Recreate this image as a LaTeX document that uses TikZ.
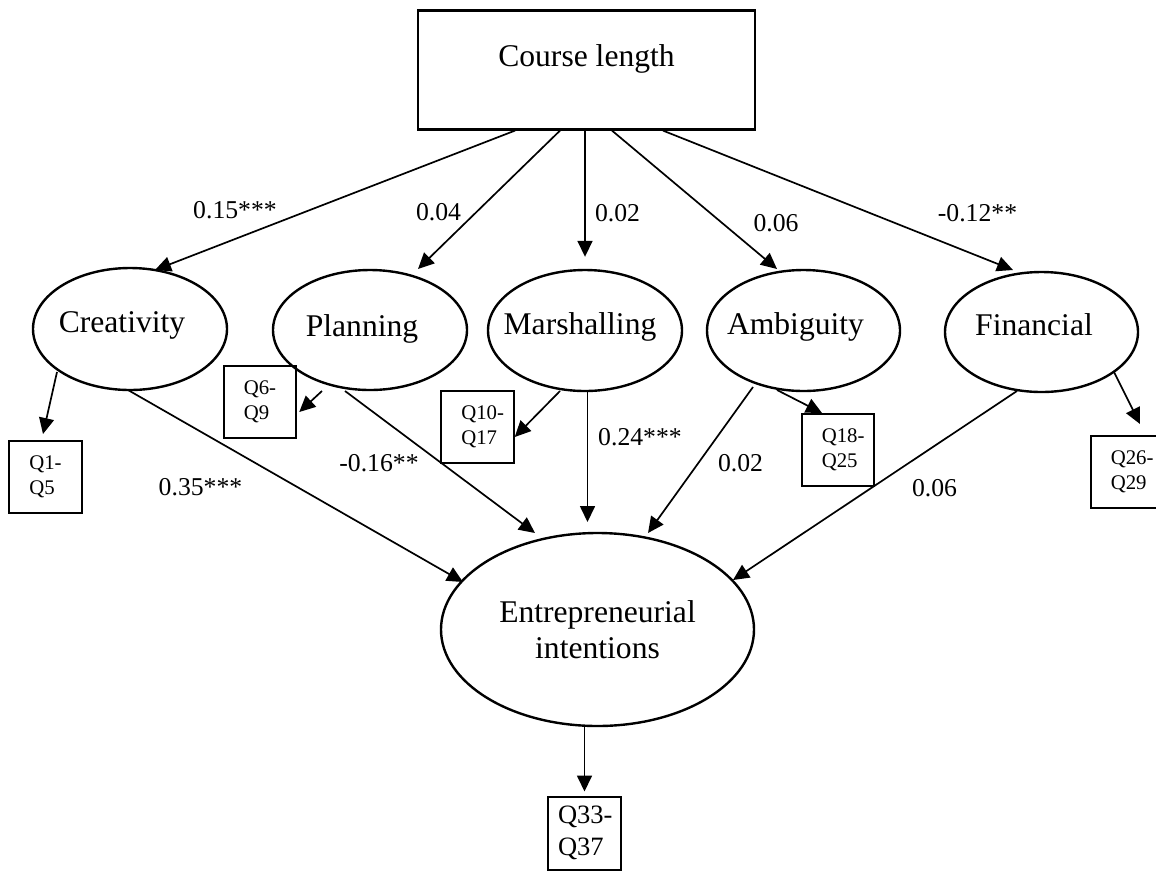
\documentclass[tikz,border=0pt]{standalone}
\usepackage{fontspec}
\setmainfont{Liberation Serif}
\usetikzlibrary{arrows.meta,shapes.geometric,calc}
\begin{document}
\begin{tikzpicture}[x=1pt,y=-1pt,
  bigtxt/.style={font=\fontsize{31.6}{36}\selectfont, inner sep=0pt},
  coef/.style={font=\fontsize{25.7}{30}\selectfont, inner sep=0pt},
  lat/.style={ellipse, draw, line width=2.4pt, inner sep=0pt},
  obsbox/.style={rectangle, draw, line width=2pt, font=\fontsize{20.8}{25}\selectfont,
    align=left, text width=32.5pt, inner xsep=20pt, inner ysep=0pt, minimum height=72pt},
  arr/.style={line width=1.7pt, -{Triangle[length=16pt,width=15pt]}},
]
\useasboundingbox (0,0) rectangle (1156,871);

% exogenous box
\node[draw, line width=2.2pt, minimum width=337pt, minimum height=119pt, inner sep=0pt,
  label={[bigtxt, shift={(0,-11)}]center:Course length}] (course) at (586.5,70) {};

% latent variables
\node[lat, minimum width=194pt, minimum height=122pt,
  label={[bigtxt, shift={(-8,-4)}]center:Creativity}] (crea) at (130,329) {};
\node[lat, minimum width=194pt, minimum height=120pt,
  label={[bigtxt, shift={(-8,-1)}]center:Planning}] (plan) at (370,330) {};
\node[lat, minimum width=194pt, minimum height=121pt,
  label={[bigtxt, shift={(-5,-4)}]center:Marshalling}] (mars) at (585,330.5) {};
\node[lat, minimum width=193pt, minimum height=121pt,
  label={[bigtxt, shift={(-8,-4)}]center:Ambiguity}] (ambi) at (803.5,330.5) {};
\node[lat, minimum width=193pt, minimum height=120pt,
  label={[bigtxt, shift={(-7.5,-7)}]center:Financial}] (fin) at (1041.5,332) {};
\node[lat, minimum width=313pt, minimum height=193pt, align=center,
  font=\fontsize{31.6}{36}\selectfont] (ei) at (597.5,629.5) {Entrepreneurial\\intentions};

% indicator boxes
\node[obsbox] (q1) at (45.5,477) {\mbox{Q1-}\\\mbox{Q5}};
\node[obsbox] (q6) at (260,402) {\mbox{Q6-}\\\mbox{Q9}};
\node[obsbox] (q10) at (477.5,426.5) {\mbox{Q10-}\\\mbox{Q17}};
\node[obsbox] (q18) at (838,450) {\mbox{Q18-}\\\mbox{Q25}};
\node[obsbox] (q26) at (1127,472) {\mbox{Q26-}\\\mbox{Q29}};
\node[obsbox, font=\fontsize{26.5}{32}\selectfont, text width=53pt, inner xsep=10pt, minimum height=73pt] (q33) at (584.5,833) {\mbox{Q33-}\\\mbox{Q37}};

% course length -> latents
\draw[arr] ($(course.south)+(-71.5,0)$) -- ($(crea)+(25,-59)$);
\draw[arr] ($(course.south)+(-26.5,0)$) -- ($(plan)+(48,-61)$);
\draw[arr] (course.south -| mars) -- ($(mars.north)+(0,-12)$);
\draw[arr] ($(course.south)+(25.5,0)$) -- ($(ambi)+(-26.5,-61.5)$);
\draw[arr] ($(course.south)+(76.5,0)$) -- ($(fin)+(-28.5,-62)$);

% latents -> indicators
\draw[arr] ($(crea)+(-73,43)$) -- ($(q1.north)+(-2.5,-6)$);
\draw[arr] ($(plan)+(-48,61)$) -- ($(q6.east)+(2,10)$);
\draw[arr] ($(mars)+(-25,60.5)$) -- ($(q10.east)+(0,10.5)$);
\draw[arr] ($(ambi)+(-26.5,59.5)$) -- ($(q18.north)+(-16,0)$);
\draw[arr] ($(fin)+(72.5,40)$) -- ($(q26.north)+(13,-11)$);
\draw[arr] (q33.north |- ei.south) -- ($(q33.north)+(0,-4)$);

% latents -> entrepreneurial intentions
\draw[arr] ($(crea)+(-2,61)$) -- ($(ei)+(-134.5,-47.5)$);
\draw[arr] ($(plan)+(-25,61)$) -- ($(ei)+(-62.5,-96.5)$);
\draw[arr] ($(mars)+(2.5,60.5)$) -- ($(ei)+(-10,-107.5)$);
\draw[arr] ($(ambi)+(-50.5,56.5)$) -- ($(ei)+(50.5,-96.5)$);
\draw[arr] ($(fin)+(-24.5,59)$) -- ($(ei)+(135.5,-49.5)$);

% coefficients
\node[coef] (l1) at (235,210) {0.15***};
\node[coef] (l2) at (438.5,212) {0.04};
\node[coef] (l3) at (617.5,213) {0.02};
\node[coef] (l4) at (776,223) {0.06};
\node[coef] (l5) at (977.5,213) {-0.12**};
\node[coef] (l6) at (200.5,487) {0.35***};
\node[coef] (l7) at (379,463) {-0.16**};
\node[coef] (l8) at (640,437) {0.24***};
\node[coef] (l9) at (740.5,463) {0.02};
\node[coef] (l10) at (934.5,488) {0.06};
\end{tikzpicture}
\end{document}
